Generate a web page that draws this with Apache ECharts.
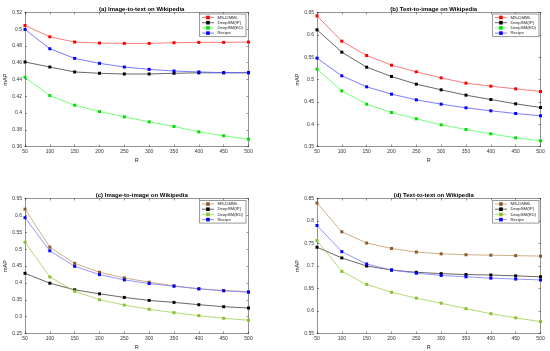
<!DOCTYPE html>
<html>
<head>
<meta charset="utf-8">
<script src="https://cdn.jsdelivr.net/npm/echarts@6/dist/echarts.min.js"></script>
<style>
html,body{margin:0;padding:0;background:#fff;}
#chart{width:550px;height:351px;}
</style>
</head>
<body>
<div id="chart"></div>
<script>
// ---------- data ----------
var R = [50, 100, 150, 200, 250, 300, 350, 400, 450, 500];
var seriesNames = ['MS-DMML', 'DeepSM(IP)', 'DeepSM(ED)', 'Recipe'];
var titles = ['(a) Image-to-text on Wikipedia', '(b) Text-to-image on Wikipedia',
              '(c) Image-to-image on Wikipedia', '(d) Text-to-text on Wikipedia'];

// (a) Image-to-text
var a_msdmml = [0.5045, 0.4910, 0.4847, 0.4835, 0.4831, 0.4831, 0.4839, 0.4843, 0.4843, 0.4847];
var a_ip     = [0.4609, 0.4549, 0.4490, 0.4474, 0.4466, 0.4466, 0.4474, 0.4480, 0.4480, 0.4480];
var a_ed     = [0.4426, 0.4208, 0.4093, 0.4017, 0.3954, 0.3894, 0.3839, 0.3775, 0.3728, 0.3688];
var a_recipe = [0.4998, 0.4767, 0.4652, 0.4593, 0.4549, 0.4521, 0.4501, 0.4490, 0.4482, 0.4482];
// (b) Text-to-image
var b_msdmml = [0.6425, 0.5858, 0.5537, 0.5321, 0.5172, 0.5037, 0.4918, 0.4851, 0.4791, 0.4731];
var b_ip     = [0.6112, 0.5612, 0.5276, 0.5067, 0.4896, 0.4769, 0.4649, 0.4552, 0.4455, 0.4373];
var b_ed     = [0.5231, 0.4746, 0.4448, 0.4261, 0.4120, 0.3985, 0.3881, 0.3784, 0.3694, 0.3627];
var b_recipe = [0.5478, 0.5082, 0.4836, 0.4672, 0.4545, 0.4448, 0.4366, 0.4299, 0.4239, 0.4187];
// (c) Image-to-image
var c_msdmml = [0.6186, 0.5059, 0.4578, 0.4314, 0.4147, 0.4020, 0.3912, 0.3824, 0.3775, 0.3735];
var c_ip     = [0.4284, 0.3990, 0.3794, 0.3676, 0.3569, 0.3480, 0.3422, 0.3353, 0.3294, 0.3255];
var c_ed     = [0.5206, 0.4176, 0.3755, 0.3500, 0.3343, 0.3216, 0.3118, 0.3029, 0.2951, 0.2892];
var c_recipe = [0.5931, 0.4951, 0.4490, 0.4245, 0.4088, 0.3980, 0.3902, 0.3824, 0.3765, 0.3725];
// (d) Text-to-text
var d_msdmml = [0.8400, 0.7760, 0.7510, 0.7390, 0.7310, 0.7270, 0.7250, 0.7240, 0.7230, 0.7220];
var d_ip     = [0.7417, 0.7179, 0.7000, 0.6910, 0.6860, 0.6830, 0.6810, 0.6800, 0.6780, 0.6760];
var d_ed     = [0.7567, 0.6880, 0.6590, 0.6416, 0.6286, 0.6173, 0.6052, 0.5940, 0.5848, 0.5764];
var d_recipe = [0.7900, 0.7319, 0.7045, 0.6910, 0.6840, 0.6790, 0.6760, 0.6730, 0.6710, 0.6690];

var yMins = [0.36, 0.35, 0.25, 0.55];
var yMaxs = [0.52, 0.65, 0.65, 0.85];
var yIntervals = [0.02, 0.05, 0.05, 0.05];
var panelData = [
  [a_msdmml, a_ip, a_ed, a_recipe],
  [b_msdmml, b_ip, b_ed, b_recipe],
  [c_msdmml, c_ip, c_ed, c_recipe],
  [d_msdmml, d_ip, d_ed, d_recipe]
];

// ---------- styling / layout ----------
var FONT = 'Liberation Sans, Arial, Helvetica, sans-serif';
var grids = [
  {left: 25,  top: 12.5,  width: 223.5, height: 134},
  {left: 317, top: 12.5,  width: 223.5, height: 134},
  {left: 25,  top: 198.5, width: 223.5, height: 136},
  {left: 317, top: 198.5, width: 223.5, height: 136}
];
var nameGaps = [16, 14.5, 16.5, 14.5];
var palettesMarker = [
  ['#ff0000', '#000000', '#00e000', '#0000ff'],
  ['#ff0000', '#000000', '#00e000', '#0000ff'],
  ['#8a5a2b', '#000000', '#88c030', '#0000ff'],
  ['#8a5a2b', '#000000', '#88c030', '#0000ff']
];
var palettesLine = [
  ['#ff5a5a', '#404040', '#50ff50', '#5a5aff'],
  ['#ff5a5a', '#404040', '#50ff50', '#5a5aff'],
  ['#c09a6a', '#404040', '#a0d050', '#7a7aff'],
  ['#c09a6a', '#404040', '#a0d050', '#7a7aff']
];
var legendPos = [
  {right: 304, top: 14},
  {right: 11, top: 14},
  {right: 304, top: 200.5},
  {right: 11, top: 200.5}
];

var axisColor = '#262626';
var xAxes = [], yAxes = [], series = [], legends = [], titleList = [];

for (var p = 0; p < 4; p++) {
  var g = grids[p];
  xAxes.push({
    gridIndex: p, type: 'value', min: 50, max: 500, interval: 50, position: 'bottom',
    name: 'R', nameLocation: 'middle', nameGap: 10.5,
    nameTextStyle: {fontFamily: FONT, fontSize: 5.5, color: axisColor},
    axisLine: {show: true, onZero: false, lineStyle: {color: axisColor, width: 0.5}},
    axisTick: {show: true, inside: true, length: 2, lineStyle: {color: axisColor, width: 0.5}},
    axisLabel: {fontFamily: FONT, fontSize: 5, color: '#333', margin: 3},
    splitLine: {show: false}
  });
  xAxes.push({
    gridIndex: p, type: 'value', min: 50, max: 500, interval: 50, position: 'top',
    axisLine: {show: true, onZero: false, lineStyle: {color: axisColor, width: 0.5}},
    axisTick: {show: true, inside: true, length: 2, lineStyle: {color: axisColor, width: 0.5}},
    axisLabel: {show: false}, splitLine: {show: false}
  });
  yAxes.push({
    gridIndex: p, type: 'value', min: yMins[p], max: yMaxs[p], interval: yIntervals[p], position: 'left',
    name: 'mAP', nameLocation: 'middle', nameGap: nameGaps[p],
    nameTextStyle: {fontFamily: FONT, fontSize: 5.5, color: axisColor},
    axisLine: {show: true, onZero: false, lineStyle: {color: axisColor, width: 0.5}},
    axisTick: {show: true, inside: true, length: 2, lineStyle: {color: axisColor, width: 0.5}},
    axisLabel: {fontFamily: FONT, fontSize: 5, color: '#333', margin: 3,
      formatter: function (v) { return String(parseFloat(v.toFixed(4))); }},
    splitLine: {show: false}
  });
  yAxes.push({
    gridIndex: p, type: 'value', min: yMins[p], max: yMaxs[p], interval: yIntervals[p], position: 'right',
    axisLine: {show: true, onZero: false, lineStyle: {color: axisColor, width: 0.5}},
    axisTick: {show: true, inside: true, length: 2, lineStyle: {color: axisColor, width: 0.5}},
    axisLabel: {show: false}, splitLine: {show: false}
  });

  var legendData = [];
  for (var s = 0; s < 4; s++) {
    var vals = panelData[p][s];
    var pts = R.map(function (r, i) { return [r, vals[i]]; });
    series.push({
      type: 'line', name: seriesNames[s], xAxisIndex: 2 * p, yAxisIndex: 2 * p,
      data: pts, symbol: 'rect', symbolSize: 3, showSymbol: true,
      lineStyle: {color: palettesLine[p][s], width: 0.8},
      itemStyle: {color: palettesMarker[p][s]},
      animation: false, silent: true, z: 3
    });
    legendData.push({
      name: seriesNames[s],
      itemStyle: {color: palettesMarker[p][s]},
      lineStyle: {color: palettesLine[p][s], width: 0.8}
    });
  }
  var lg = {
    data: legendData, orient: 'vertical', top: legendPos[p].top, right: legendPos[p].right,
    selectedMode: false, backgroundColor: '#fff', borderColor: '#333', borderWidth: 0.5,
    padding: [1.5, 3, 1.5, 2], itemGap: 1.2, itemWidth: 12, itemHeight: 4.5,
    textStyle: {fontFamily: FONT, fontSize: 4.3, color: '#222', padding: [0, 0, 0, -1.5]}
  };
  legends.push(lg);
  titleList.push({
    text: titles[p], left: g.left + g.width / 2, textAlign: 'center',
    top: g.top - 11,
    textStyle: {fontFamily: FONT, fontSize: 6, fontWeight: 'bold', color: '#000'}
  });
}

var chart = echarts.init(document.getElementById('chart'), null, {renderer: 'canvas'});
chart.setOption({
  backgroundColor: '#fff',
  animation: false,
  title: titleList,
  grid: grids,
  xAxis: xAxes,
  yAxis: yAxes,
  legend: legends,
  series: series
});
</script>
</body>
</html>
